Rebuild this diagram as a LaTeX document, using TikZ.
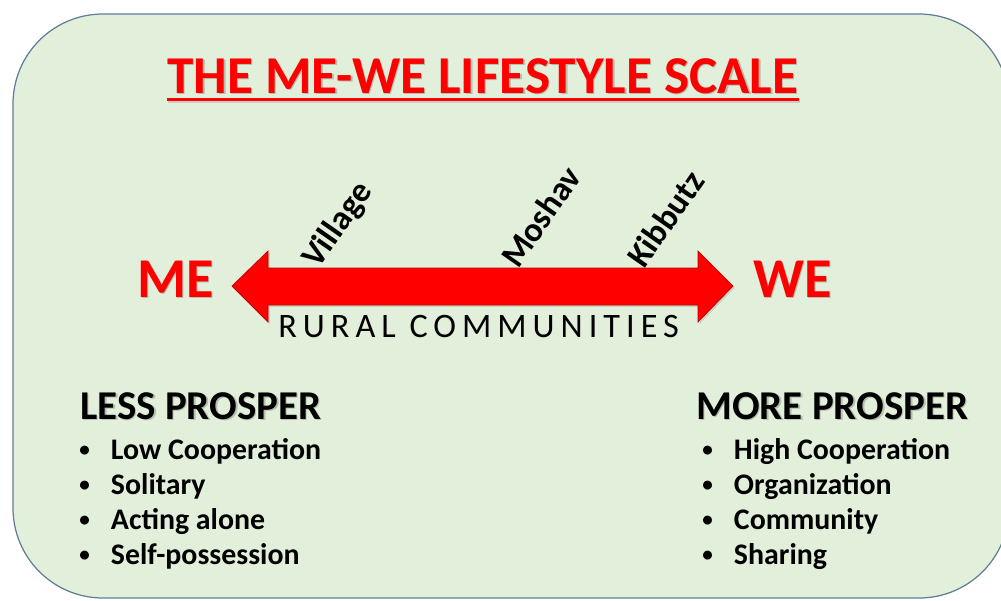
\documentclass[tikz,border=0pt]{standalone}
\usepackage{fontspec}
\setmainfont{Carlito}
\usepackage{tikz}
\usetikzlibrary{shadows}

\definecolor{panelgreen}{RGB}{226,239,218}
\definecolor{panelline}{RGB}{95,125,150}
\definecolor{scalered}{RGB}{255,0,0}

\begin{document}
\begin{tikzpicture}[x=0.02cm, y=-0.02cm,
    txt/.style={inner sep=0, anchor=base west},
    shade/.style={text=black, opacity=0.2},
    titletxt/.style={txt, font=\bfseries\fontsize{30.3}{36}\selectfont},
    poletxt/.style={txt, font=\bfseries\fontsize{32}{38}\selectfont},
    headtxt/.style={txt, font=\bfseries\fontsize{23.3}{28}\selectfont},
    itemtxt/.style={txt, font=\bfseries\fontsize{17}{20}\selectfont},
    placetxt/.style={txt, rotate=55, font=\bfseries\fontsize{19.5}{23}\selectfont}]
    % page and rounded panel
    \useasboundingbox (0,0) rectangle (1001,600);
    \draw[panelline, fill=panelgreen, line width=0.7pt, rounded corners=1.8cm]
        (13,14) rectangle (1009,598);

    % title with shadow and underline
    \node[titletxt, shade] at (168.5,94.5) {THE ME-WE LIFESTYLE SCALE};
    \node[titletxt, text=scalered] (title) at (167,93) {THE ME-WE LIFESTYLE SCALE};
    \draw[black!20, line width=2pt] ([shift={(0.8pt,-4.5pt)}]title.base west) -- ([shift={(0.8pt,-4.5pt)}]title.base east);
    \draw[scalered, line width=2pt] ([yshift=-3.7pt]title.base west) -- ([yshift=-3.7pt]title.base east);

    % the two-headed scale arrow
    \filldraw[scalered, draw=red!75!black, line width=0.4pt,
        drop shadow={opacity=0.25, shadow xshift=1pt, shadow yshift=-1pt}]
        (232,286) -- (268,251) -- (268,268) -- (698,268) -- (698,251) -- (733,286)
        -- (698,322) -- (698,305) -- (268,305) -- (268,322) -- cycle;

    % ends of the scale
    \node[poletxt, shade] at (138.5,298.5) {ME};
    \node[poletxt, text=scalered] (me) at (137,297) {ME};
    \node[poletxt, shade] at (754.5,298.5) {WE};
    \node[poletxt, text=scalered] (we) at (753,297) {WE};

    % community types along the arrow
    \node[placetxt] (village) at (318,270) {Village};
    \node[placetxt] (moshav) at (518,270) {Moshav};
    \node[placetxt] (kibbutz) at (644,270) {Kibbutz};

    \node[txt, font=\fontsize{19.5}{23}\selectfont\addfontfeature{LetterSpace=17.5}] (rural) at (278,337) {RURAL COMMUNITIES};

    % left column
    \node[headtxt, shade] at (81.5,420.5) {LESS PROSPER};
    \node[headtxt] (less) at (80,419) {LESS PROSPER};
    \foreach \txt [count=\i] in {Low Cooperation, Solitary, Acting alone, Self-possession}
        \node[itemtxt] (less\i) at (79,424+35*\i) {\makebox[18pt][l]{\raisebox{1.2pt}{\fontsize{12}{12}\selectfont\textbullet}}\txt};

    % right column
    \node[headtxt, shade] at (697.5,420.5) {MORE PROSPER};
    \node[headtxt] (more) at (696,419) {MORE PROSPER};
    \foreach \txt [count=\i] in {High Cooperation, Organization, Community, Sharing}
        \node[itemtxt] (more\i) at (702,424+35*\i) {\makebox[18pt][l]{\raisebox{1.2pt}{\fontsize{12}{12}\selectfont\textbullet}}\txt};
\end{tikzpicture}
\end{document}
